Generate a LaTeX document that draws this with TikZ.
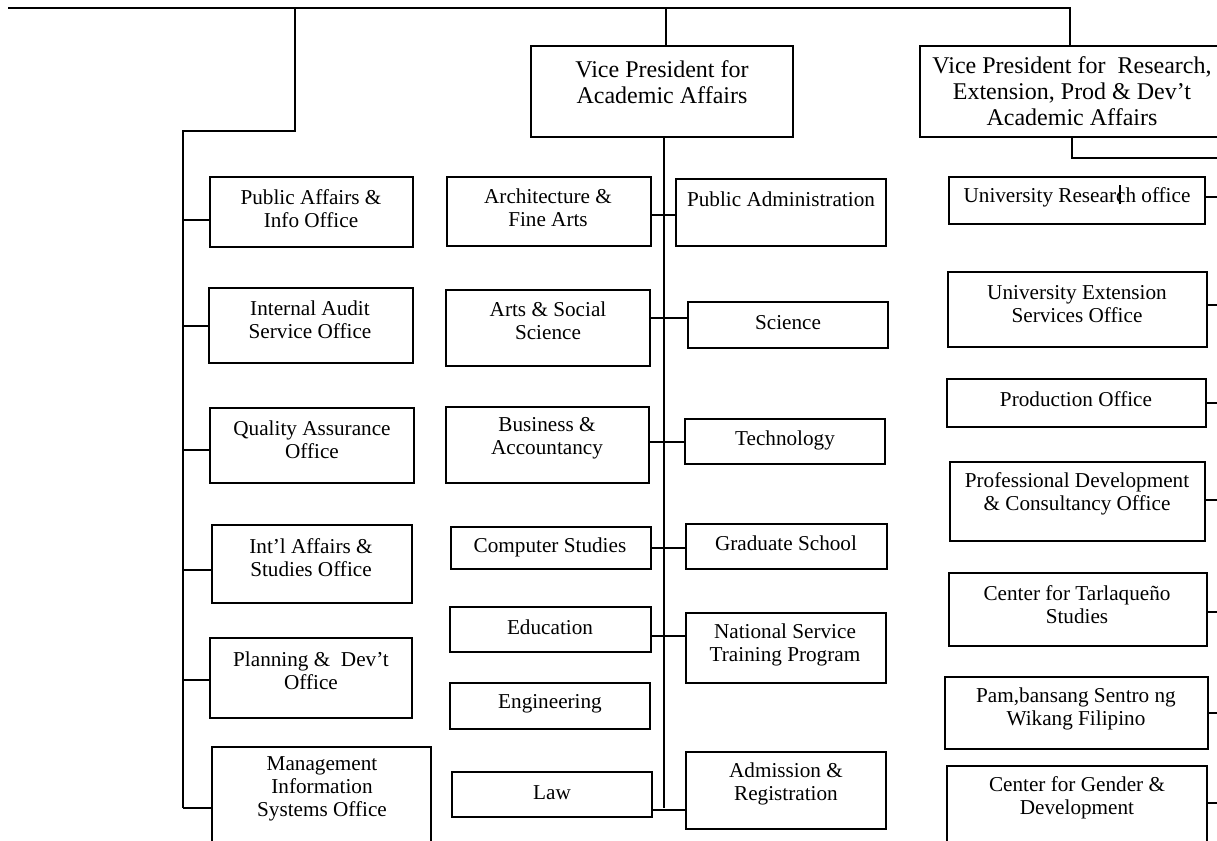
\documentclass[tikz,border=0pt]{standalone}
\usepackage{fontspec}
\setmainfont{Liberation Serif}
\begin{document}
\begin{tikzpicture}[x=0.75pt,y=-0.75pt,
  boxst/.style={draw, line width=1.5pt, rectangle, inner sep=0pt, outer sep=0pt},
  txt/.style={font=\fontsize{15.9}{17.3}\selectfont, align=center, inner sep=0pt},
  vptxt/.style={font=\fontsize{18}{19.6}\selectfont, align=center, inner sep=0pt},
  link/.style={line width=1.1pt}]
\useasboundingbox (0,0) rectangle (1217,840);
\clip (0,0) rectangle (1217,840);
% box given by name, left, top, right, bottom (pixel units, y downward)
\newcommand\orgbox[5]{%
  \node[boxst, minimum width={(#4-#2)*0.75pt}, minimum height={(#5-#3)*0.75pt}]
    (#1) at ({(#2+#4)/2},{(#3+#5)/2}) {};}

% vice presidents
\orgbox{vp1}{531}{46}{793}{137}
\orgbox{vp2}{920}{46}{1224}{137}
\node[vptxt] (vp1-t) at (662,82) {Vice President for\\Academic Affairs};
\node[vptxt] (vp2-t) at (1072,91) {Vice President for\ \ Research,\\Extension, Prod \& Dev’t\\Academic Affairs};

% staff offices
\orgbox{pa}{210}{177}{413}{247}
\orgbox{ia}{209}{288}{413}{363}
\orgbox{qa}{210}{408}{414}{483}
\orgbox{ilo}{212}{525}{412}{603}
\orgbox{pd}{210}{638}{412}{718}
\orgbox{mis}{212}{747}{431}{870}
\node[txt] (pa-t) at (311,209) {Public Affairs \&\\Info Office};
\node[txt] (ia-t) at (310,320) {Internal Audit\\Service Office};
\node[txt] (qa-t) at (312,440) {Quality Assurance\\Office};
\node[txt] (ilo-t) at (311,558) {Int’l Affairs \&\\Studies Office};
\node[txt] (pd-t) at (311,671) {Planning \&\ \ Dev’t\\Office};
\node[txt] (mis-t) at (322,789) {Management\\Information\\Systems Office};

% colleges and units under academic affairs
\orgbox{arch}{447}{177}{651}{246}
\orgbox{arts}{446}{290}{650}{366}
\orgbox{bus}{446}{407}{649}{483}
\orgbox{cs}{451}{527}{651}{569}
\orgbox{edu}{450}{607}{651}{652}
\orgbox{eng}{450}{683}{650}{729}
\orgbox{law}{452}{772}{652}{817}
\orgbox{padm}{676}{179}{886}{246}
\orgbox{sci}{688}{302}{888}{348}
\orgbox{tech}{685}{419}{885}{464}
\orgbox{grad}{686}{524}{887}{569}
\orgbox{nstp}{686}{613}{886}{683}
\orgbox{adm}{686}{752}{886}{829}
\node[txt] (arch-t) at (548,208) {Architecture \&\\Fine Arts};
\node[txt] (arts-t) at (548,321) {Arts \& Social\\Science};
\node[txt] (bus-t) at (547,438) {Business \&\\Accountancy};
\node[txt] (cs-t) at (550,547) {Computer Studies};
\node[txt] (edu-t) at (550,627) {Education};
\node[txt] (eng-t) at (550,704) {Engineering};
\node[txt] (law-t) at (552,793) {Law};
\node[txt] (padm-t) at (781,199) {Public Administration};
\node[txt] (sci-t) at (788,323) {Science};
\node[txt] (tech-t) at (785,440) {Technology};
\node[txt] (grad-t) at (786,543) {Graduate School};
\node[txt] (nstp-t) at (785,645) {National Service\\Training Program};
\node[txt] (adm-t) at (786,784) {Admission \&\\Registration};

% research, extension, production and development offices
\orgbox{uro}{949}{177}{1205}{224}
\orgbox{ues}{948}{272}{1207}{347}
\orgbox{prod}{947}{379}{1206}{427}
\orgbox{pdco}{950}{462}{1205}{541}
\orgbox{ctar}{949}{573}{1207}{646}
\orgbox{pam}{945}{677}{1208}{749}
\orgbox{cgd}{947}{766}{1207}{870}
\node[txt] (uro-t) at (1077,197) {University Research office};
\node[txt] (ues-t) at (1077,304) {University Extension\\Services Office};
\node[txt] (prod-t) at (1076,399) {Production Office};
\node[txt] (pdco-t) at (1077,494) {Professional Development\\\& Consultancy Office};
\node[txt] (ctar-t) at (1077,605) {Center for Tarlaqueño\\Studies};
\node[txt] (pam-t) at (1076,709) {Pam,bansang Sentro ng\\Wikang Filipino};
\node[txt] (cgd-t) at (1077,798) {Center for Gender \&\\Development};
% text cursor mark inside "Research"
\draw[line width=1.3pt] (1120,185) -- (1120,204);

% connector joints
\coordinate (topL) at (8,8);
\coordinate (topR) at (1070,8);
\coordinate (lbend) at (183,131);
\coordinate (lend) at (183,808);
\coordinate (vtop) at (666,8);
\coordinate (mend) at (664,808);
\coordinate (rbend) at (1072,158);
\coordinate (redge) at (1217,158);

% top bar and drops
\draw[link] (topL) -- (topR) -- (topR |- vp2.north);
\draw[link] (295,8) |- (lbend) -- (lend);
\draw[link] (vtop) -- (vtop |- vp1.north);

% staff office branches
\draw[link] (lend |- 0,220) -- (pa.west |- 0,220);
\draw[link] (lend |- 0,326) -- (ia.west |- 0,326);
\draw[link] (lend |- 0,450) -- (qa.west |- 0,450);
\draw[link] (lend |- 0,570) -- (ilo.west |- 0,570);
\draw[link] (lend |- 0,680) -- (pd.west |- 0,680);
\draw[link] (lend) -- (mis.west |- lend);

% academic spine and branches
\draw[link] (mend |- vp1.south) -- (mend);
\draw[link] (arch.east |- 0,215) -- (padm.west |- 0,215);
\draw[link] (arts.east |- 0,318) -- (sci.west |- 0,318);
\draw[link] (bus.east |- 0,442) -- (tech.west |- 0,442);
\draw[link] (cs.east |- 0,548) -- (grad.west |- 0,548);
\draw[link] (edu.east |- 0,636) -- (nstp.west |- 0,636);
\draw[link] (law.east |- 0,810) -- (adm.west |- 0,810);

% research side
\draw[link] (vp2.south -| rbend) -- (rbend) -- (redge);
\draw[link] (uro.east |- 0,197) -- (redge |- 0,197);
\draw[link] (ues.east |- 0,305) -- (redge |- 0,305);
\draw[link] (prod.east |- 0,403) -- (redge |- 0,403);
\draw[link] (pdco.east |- 0,500) -- (redge |- 0,500);
\draw[link] (ctar.east |- 0,612) -- (redge |- 0,612);
\draw[link] (pam.east |- 0,713) -- (redge |- 0,713);
\draw[link] (cgd.east |- 0,803) -- (redge |- 0,803);
\end{tikzpicture}
\end{document}
